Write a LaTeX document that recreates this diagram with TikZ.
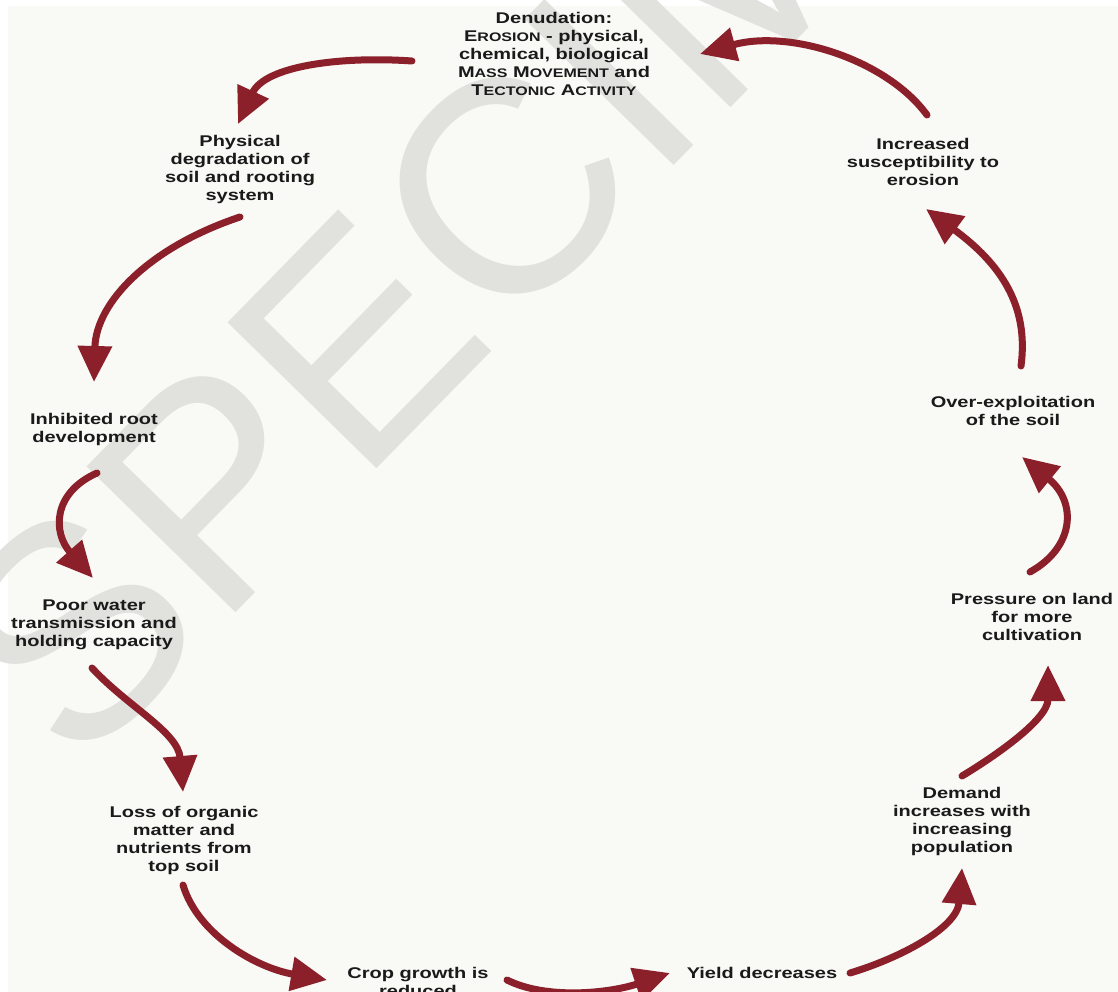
\documentclass[tikz,border=0pt]{standalone}
\usepackage{fontspec}
\usepackage{xcolor}
\usetikzlibrary{arrows.meta, calc}
\newfontfamily\lblfont[FakeStretch=1.29]{Liberation Sans}
\newfontfamily\markfont{Liberation Sans}
\definecolor{paper}{RGB}{249,249,246}
\definecolor{arrowred}{RGB}{140,32,42}
\definecolor{marktext}{RGB}{225,225,221}
\definecolor{lbltext}{RGB}{26,26,26}
\newcommand{\smc}[1]{{\fontsize{12.4pt}{18pt}\selectfont #1}}
\tikzset{
    lbl/.style={align=center, inner sep=0pt, text=lbltext,
        font=\lblfont\bfseries\fontsize{15.5pt}{18pt}\selectfont},
    cyc/.style={draw=arrowred, line width=7pt, line cap=round,
        -{Triangle[length=36pt,width=33pt]}},
}

\begin{document}
\begin{tikzpicture}[x=1pt, y=-1pt]
    \useasboundingbox (0,0) rectangle (1118,992);
    \clip (0,0) rectangle (1118,992);
    \fill[white] (0,0) rectangle (1118,992);
    \fill[paper] (8,6) rectangle (1118,992);
    \node[rotate=45.6, inner sep=0pt, text=marktext, font=\markfont\fontsize{303pt}{303pt}\selectfont] (specimen) at (556,137) {SPECIMEN};

    % stages
    \node[lbl] (denud) at (554,54) {Denudation:\\E\smc{ROSION} - physical,\\chemical, biological\\M\smc{ASS} M\smc{OVEMENT} and\\T\smc{ECTONIC} A\smc{CTIVITY}};
    \node[lbl] (physdeg) at (240,169) {Physical\\degradation of\\soil and rooting\\system};
    \node[lbl] (inhib) at (94,429) {Inhibited root\\development};
    \node[lbl] (poorwater) at (94,625) {Poor water\\transmission and\\holding capacity};
    \node[lbl] (lossom) at (184,840) {Loss of organic\\matter and\\nutrients from\\top soil};
    \node[lbl] (cropred) at (418,982) {Crop growth is\\reduced};
    \node[lbl] (yielddec) at (762,973) {Yield decreases};
    \node[lbl] (demand) at (962,821) {Demand\\increases with\\increasing\\population};
    \node[lbl] (pressure) at (1032,617) {Pressure on land\\for more\\cultivation};
    \node[lbl] (overexp) at (1013,411) {Over-exploitation\\of the soil};
    \node[lbl] (suscept) at (923,162) {Increased\\susceptibility to\\erosion};

    % cycle arrows
    \draw[cyc] ($(denud)+(-142,7)$) .. controls +(-72,-5) and +(27,-58) .. ($(physdeg)+(-2,-45)$);
    \draw[cyc] ($(physdeg)+(0,48)$) .. controls +(-90,30) and +(2,-80) .. ($(inhib)+(0,-47)$);
    \draw[cyc] ($(inhib)+(3,44)$) .. controls +(-45,20) and +(-40,-45) .. ($(poorwater)+(-1,-47)$);
    \draw[cyc] ($(poorwater)+(-2,43)$) .. controls +(35,38) and +(-5,-60) .. ($(lossom)+(-1,-48)$);
    \draw[cyc] ($(lossom)+(-1,45)$) .. controls +(15,50) and +(-70,-12) .. ($(cropred)+(-91,-2)$);
    \draw[cyc] ($(cropred)+(89,-2)$) .. controls +(40,20) and +(-60,20) .. ($(yielddec)+(-92,0)$);
    \draw[cyc] ($(yielddec)+(88,0)$) .. controls +(50,-15) and +(-5,60) .. ($(demand)+(0,47)$);
    \draw[cyc] ($(demand)+(0,-45)$) .. controls +(30,-18) and +(0,55) .. ($(pressure)+(16,48)$);
    \draw[cyc] ($(pressure)+(-2,-45)$) .. controls +(45,-25) and +(55,45) .. ($(overexp)+(9,46)$);
    \draw[cyc] ($(overexp)+(8,-45)$) .. controls +(8,-60) and +(75,55) .. ($(suscept)+(3,47)$);
    \draw[cyc] ($(suscept)+(4,-47)$) .. controls +(-40,-55) and +(90,-25) .. ($(denud)+(146,0)$);
\end{tikzpicture}
\end{document}
